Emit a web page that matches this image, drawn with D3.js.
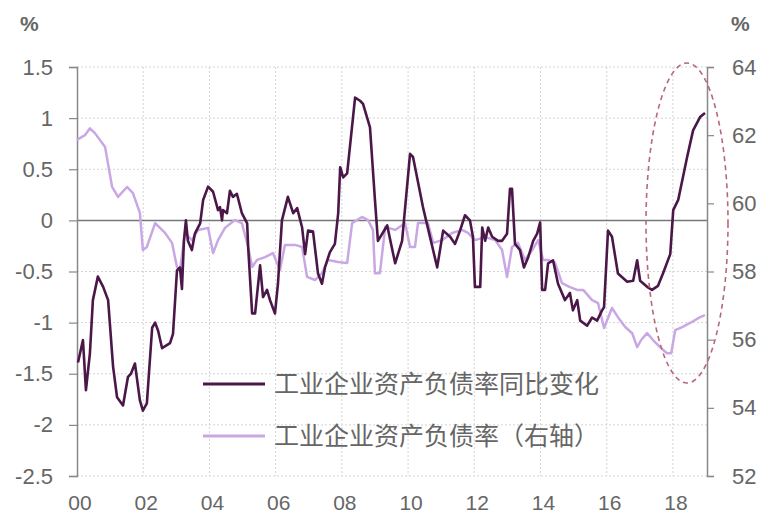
<html>
<head>
<meta charset="utf-8">
<script src="https://d3js.org/d3.v7.min.js"></script>
<style>
  body { margin: 0; background: #fff; }
  text { font-family: "Liberation Sans", Arial, sans-serif; fill: #666; }
  .cjk { font-family: "Noto Sans CJK SC", sans-serif; }
</style>
</head>
<body>
<svg width="758" height="517"></svg>
<script>
// years since 2000 (decimal)
const yearTicks = [0, 2, 4, 6, 8, 10, 12, 14, 16, 18];
const yearLabels = ["00", "02", "04", "06", "08", "10", "12", "14", "16", "18"];
const leftTicks = [-2.5, -2, -1.5, -1, -0.5, 0, 0.5, 1, 1.5];
const rightTicks = [52, 54, 56, 58, 60, 62, 64];
const legendNames = ["工业企业资产负债率同比变化", "工业企业资产负债率（右轴）"];

// 工业企业资产负债率同比变化 (left axis, %)
const yoyChange = [
  [0.03,-1.39],[0.18,-1.17],[0.27,-1.66],[0.39,-1.30],[0.48,-0.78],[0.63,-0.55],[0.79,-0.65],
  [0.94,-0.78],[1.09,-1.43],[1.21,-1.73],[1.39,-1.81],[1.54,-1.53],[1.63,-1.50],[1.75,-1.40],
  [1.90,-1.76],[1.99,-1.86],[2.11,-1.79],[2.27,-1.05],[2.36,-1.00],[2.45,-1.08],[2.57,-1.25],
  [2.81,-1.20],[2.90,-1.11],[3.02,-0.49],[3.11,-0.46],[3.17,-0.67],[3.23,-0.20],[3.29,0.00],
  [3.35,-0.20],[3.47,-0.29],[3.56,-0.13],[3.72,-0.03],[3.81,0.20],[3.96,0.33],[4.11,0.28],
  [4.26,0.10],[4.32,0.13],[4.38,0.00],[4.41,0.10],[4.53,0.07],[4.62,0.29],[4.71,0.23],
  [4.83,0.26],[4.98,0.07],[5.14,-0.03],[5.17,-0.26],[5.29,-0.91],[5.38,-0.91],[5.53,-0.44],
  [5.62,-0.75],[5.74,-0.68],[5.83,-0.78],[5.98,-0.91],[6.07,-0.62],[6.19,0.00],[6.37,0.23],
  [6.53,0.07],[6.65,0.12],[6.80,-0.07],[6.89,-0.33],[6.98,-0.10],[7.13,-0.11],[7.28,-0.52],
  [7.40,-0.62],[7.49,-0.46],[7.64,-0.31],[7.79,-0.23],[7.89,0.07],[7.95,0.52],[8.04,0.42],
  [8.16,0.46],[8.40,1.20],[8.55,1.17],[8.64,1.14],[8.85,0.91],[9.00,0.20],[9.09,-0.20],
  [9.37,-0.05],[9.61,-0.42],[9.82,-0.20],[10.06,0.65],[10.15,0.62],[10.45,0.13],[10.88,-0.46],
  [11.06,-0.10],[11.27,-0.16],[11.42,-0.23],[11.57,-0.10],[11.72,0.05],[11.87,0.00],[11.96,-0.16],
  [12.02,-0.65],[12.18,-0.65],[12.24,-0.07],[12.33,-0.20],[12.42,-0.07],[12.54,-0.16],[12.72,-0.20],
  [12.84,-0.20],[12.99,-0.13],[13.08,0.31],[13.14,0.31],[13.23,-0.23],[13.38,-0.29],[13.50,-0.46],
  [13.63,-0.36],[13.78,-0.20],[13.90,-0.13],[13.99,-0.02],[14.05,-0.68],[14.14,-0.68],[14.23,-0.42],
  [14.38,-0.39],[14.53,-0.62],[14.74,-0.78],[14.89,-0.71],[14.98,-0.88],[15.11,-0.78],[15.20,-0.98],
  [15.41,-1.03],[15.56,-0.95],[15.71,-0.98],[15.86,-0.88],[15.92,-0.85],[16.04,-0.10],[16.16,-0.16],
  [16.34,-0.52],[16.62,-0.60],[16.80,-0.59],[16.92,-0.39],[17.01,-0.59],[17.22,-0.65],[17.37,-0.68],
  [17.55,-0.64],[17.70,-0.52],[17.92,-0.33],[18.01,0.10],[18.16,0.20],[18.43,0.62],[18.61,0.88],
  [18.82,1.01],[18.97,1.05]
];

// 工业企业资产负债率 (right axis, %)
const debtRatio = [
  [0.00,61.86],[0.24,62.00],[0.39,62.20],[0.54,62.06],[0.85,61.65],[1.06,60.48],[1.24,60.19],
  [1.51,60.48],[1.69,60.30],[1.90,59.72],[1.99,58.63],[2.11,58.72],[2.36,59.42],[2.66,59.13],
  [2.87,58.84],[3.02,58.13],[3.11,58.04],[3.26,59.13],[3.47,58.92],[3.66,59.22],[3.96,59.28],
  [4.11,58.54],[4.26,58.92],[4.47,59.28],[4.77,59.51],[4.98,59.42],[5.17,58.72],[5.29,58.13],
  [5.44,58.34],[5.68,58.42],[5.92,58.54],[6.13,58.04],[6.28,58.78],[6.59,58.78],[6.80,58.72],
  [6.95,57.84],[7.19,57.75],[7.40,57.95],[7.58,58.34],[7.89,58.28],[8.16,58.25],[8.31,59.42],
  [8.61,59.60],[8.79,59.51],[8.94,59.22],[9.00,57.95],[9.15,57.95],[9.31,59.31],[9.61,59.22],
  [9.91,59.42],[10.06,58.72],[10.21,58.72],[10.30,59.42],[10.60,59.42],[10.76,58.84],[11.03,58.92],
  [11.33,59.13],[11.63,59.22],[11.81,59.13],[12.02,58.92],[12.33,59.01],[12.63,58.92],[12.84,58.63],
  [12.99,57.84],[13.14,58.72],[13.32,58.84],[13.53,58.34],[13.75,58.63],[13.93,58.92],[14.08,58.34],
  [14.23,58.34],[14.44,58.25],[14.65,57.66],[14.89,57.54],[15.11,57.46],[15.29,57.46],[15.56,57.16],
  [15.74,57.07],[15.92,56.34],[16.16,56.93],[16.34,56.66],[16.56,56.37],[16.77,56.19],[16.92,55.78],
  [17.04,55.99],[17.22,56.19],[17.40,55.99],[17.61,55.78],[17.82,55.60],[17.95,55.60],[18.07,56.28],
  [18.28,56.37],[18.52,56.49],[18.82,56.66],[18.97,56.72]
];

const svg = d3.select("svg");
const x = d3.scaleLinear().domain([0, 19.03]).range([77, 707]);
const yL = d3.scaleLinear().domain([-2.5, 1.5]).range([476, 67]);
const yR = d3.scaleLinear().domain([52, 64]).range([476, 67]);

// grid
const grid = svg.append("g");
grid.selectAll(".hg").data(leftTicks.filter(d => d !== 0)).enter().append("line")
    .attr("x1", 77).attr("x2", 707)
    .attr("y1", d => yL(d)).attr("y2", d => yL(d))
    .attr("stroke", "#d4d4d4").attr("stroke-width", 1).attr("stroke-dasharray", "2,2");
grid.selectAll(".vg").data(yearTicks.filter(d => d > 0)).enter().append("line")
    .attr("x1", d => x(d)).attr("x2", d => x(d))
    .attr("y1", 67).attr("y2", 476)
    .attr("stroke", "#d4d4d4").attr("stroke-width", 1).attr("stroke-dasharray", "2,2");

// zero line
svg.append("line").attr("x1", 77).attr("x2", 707)
   .attr("y1", yL(0)).attr("y2", yL(0))
   .attr("stroke", "#777").attr("stroke-width", 1.5);

// left axis
const gL = svg.append("g").attr("transform", "translate(77,0)")
   .call(d3.axisLeft(yL).tickValues(leftTicks).tickSize(8).tickPadding(16).tickFormat(d => String(d)));
// right axis
const gR = svg.append("g").attr("transform", "translate(707,0)")
   .call(d3.axisRight(yR).tickValues(rightTicks).tickSize(7).tickPadding(18).tickFormat(d => String(d)));
// bottom labels
const gB = svg.append("g").attr("transform", "translate(0,476)")
   .call(d3.axisBottom(x).tickValues(yearTicks).tickSize(0).tickPadding(19)
         .tickFormat((d, i) => yearLabels[i]));
gB.select(".domain").remove();
gB.selectAll("text").attr("dx", 2.5);

[gL, gR].forEach(g => {
  g.select(".domain").attr("stroke", "#888").attr("stroke-width", 1.5);
  g.selectAll(".tick line").attr("stroke", "#888").attr("stroke-width", 1.2);
});
[gL, gR, gB].forEach(g => {
  g.selectAll("text").attr("font-size", 22).attr("fill", "#666")
   .attr("font-family", "Liberation Sans, Arial, sans-serif");
});
gB.selectAll("text").attr("font-size", 21);

// unit labels
svg.append("text").attr("x", 20).attr("y", 31).attr("font-size", 21).attr("font-weight", "bold").text("%");
svg.append("text").attr("x", 731).attr("y", 31).attr("font-size", 21).attr("font-weight", "bold").text("%");

// lines
svg.append("path").datum(debtRatio)
   .attr("fill", "none").attr("stroke", "#c9a7e4").attr("stroke-width", 2.5)
   .attr("stroke-linejoin", "round")
   .attr("d", d3.line().x(d => x(d[0])).y(d => yR(d[1])));
svg.append("path").datum(yoyChange)
   .attr("fill", "none").attr("stroke", "#4a1748").attr("stroke-width", 2.6)
   .attr("stroke-linejoin", "round")
   .attr("d", d3.line().x(d => x(d[0])).y(d => yL(d[1])));

// highlight ellipse
svg.append("ellipse").attr("cx", 687).attr("cy", 223).attr("rx", 41).attr("ry", 160)
   .attr("fill", "none").attr("stroke", "#b86878").attr("stroke-width", 1.6)
   .attr("stroke-dasharray", "5,4");

// legend
const legendColors = ["#4a1748", "#c9a7e4"];
const lg = svg.append("g").selectAll("g").data(legendNames).enter().append("g")
   .attr("transform", (d, i) => `translate(203,${384 + i * 52})`);
lg.append("line").attr("x1", 0).attr("x2", 62).attr("y1", 0).attr("y2", 0)
  .attr("stroke", (d, i) => legendColors[i]).attr("stroke-width", 3);
lg.append("text").attr("class", "cjk").attr("x", 71).attr("y", 9)
  .attr("font-size", 25).attr("fill", "#666").text(d => d);
</script>
</body>
</html>
